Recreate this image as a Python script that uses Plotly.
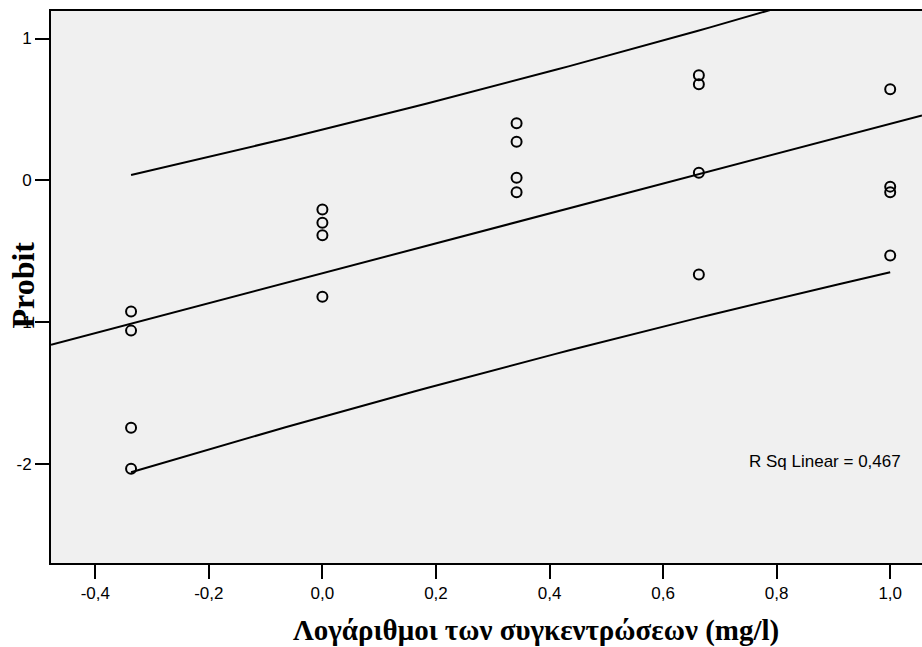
import numpy as np
import plotly.graph_objects as go

# Log10 concentration groups (mg/l) and observed probit values, four replicates each
LOG_CONC = [-0.337, -0.337, -0.337, -0.337,
            0.0, 0.0, 0.0, 0.0,
            0.342, 0.342, 0.342, 0.342,
            0.663, 0.663, 0.663, 0.663,
            1.0, 1.0, 1.0, 1.0]
PROBIT = [-0.924, -1.059, -1.743, -2.032,
          -0.205, -0.299, -0.386, -0.821,
          0.402, 0.273, 0.019, -0.083,
          0.741, 0.678, 0.054, -0.663,
          0.642, -0.044, -0.083, -0.529]

X_TICKS = [-0.4, -0.2, 0.0, 0.2, 0.4, 0.6, 0.8, 1.0]
X_TICK_LABELS = ["-0,4", "-0,2", "0,0", "0,2", "0,4", "0,6", "0,8", "1,0"]
Y_TICKS = [1, 0, -1, -2]
Y_TICK_LABELS = ["1", "0", "-1", "-2"]

X_RANGE = [-0.478, 1.056]
Y_RANGE = [-2.697, 1.194]

R_SQ_LABEL = "R Sq Linear = 0,467"
X_TITLE = "Λογάριθμοι των συγκεντρώσεων (mg/l)"
Y_TITLE = "Probit"

# Two-sided 90% Student t quantile for n - 2 = 18 degrees of freedom
T_CRIT = 1.734

x = np.array(LOG_CONC)
y = np.array(PROBIT)
n = len(x)
slope, intercept = np.polyfit(x, y, 1)
resid = y - (intercept + slope * x)
s = np.sqrt(np.sum(resid ** 2) / (n - 2))
sxx = np.sum((x - x.mean()) ** 2)

# Fitted line across the full axis
fit_x = np.array(X_RANGE)
fit_y = intercept + slope * fit_x

# Individual prediction interval over the observed concentration span
band_x = np.linspace(x.min(), x.max(), 60)
half = T_CRIT * s * np.sqrt(1 + 1 / n + (band_x - x.mean()) ** 2 / sxx)
band_mid = intercept + slope * band_x

W, H = 922, 647
L, R, T, B = 51, 0, 11, 84
PW, PH = W - L - R, H - T - B


def px_to_paper(px, py):
    return (px - L) / PW, (H - B - py) / PH


line_style = dict(color="black", width=2)

fig = go.Figure()
fig.add_trace(go.Scatter(x=fit_x, y=fit_y, mode="lines", line=line_style,
                         hoverinfo="skip"))
fig.add_trace(go.Scatter(x=band_x, y=band_mid + half, mode="lines",
                         line=line_style, hoverinfo="skip"))
fig.add_trace(go.Scatter(x=band_x, y=band_mid - half, mode="lines",
                         line=line_style, hoverinfo="skip"))
fig.add_trace(go.Scatter(
    x=x, y=y, mode="markers",
    marker=dict(symbol="circle-open", size=10, color="black",
                line=dict(color="black", width=2)),
    cliponaxis=False,
))

tick_font = dict(family="Liberation Sans, Arial, sans-serif", size=17, color="black")
title_font = dict(family="Liberation Serif, Times New Roman, serif", color="black")

ax_x, ay_x = px_to_paper(536, 630)
ax_y, ay_y = px_to_paper(22.5, 285)
ax_r, ay_r = px_to_paper(825, 461)

fig.update_layout(
    width=W, height=H,
    margin=dict(l=L, r=R, t=T, b=B, pad=0),
    paper_bgcolor="white",
    plot_bgcolor="#F0F0F0",
    showlegend=False,
    xaxis=dict(
        range=X_RANGE, tickvals=X_TICKS, ticktext=X_TICK_LABELS,
        showgrid=False, zeroline=False,
        showline=True, linecolor="black", linewidth=2, mirror=True,
        ticks="outside", ticklen=14, tickwidth=2, tickcolor="black",
        tickfont=tick_font,
    ),
    yaxis=dict(
        range=Y_RANGE, tickvals=Y_TICKS, ticktext=Y_TICK_LABELS,
        showgrid=False, zeroline=False,
        showline=True, linecolor="black", linewidth=2,
        ticks="outside", ticklen=14, tickwidth=2, tickcolor="black",
        tickfont=tick_font,
    ),
    annotations=[
        dict(text="<b>" + X_TITLE + "</b>", xref="paper", yref="paper",
             x=ax_x, y=ay_x, xanchor="center", yanchor="middle",
             showarrow=False, borderpad=0, font=dict(size=29, **title_font)),
        dict(text="<b>" + Y_TITLE + "</b>", xref="paper", yref="paper",
             x=ax_y, y=ay_y, xanchor="center", yanchor="middle",
             textangle=-90, showarrow=False, borderpad=0,
             font=dict(size=32, **title_font)),
        dict(text=R_SQ_LABEL, xref="paper", yref="paper", x=ax_r, y=ay_r,
             xanchor="center", yanchor="middle", showarrow=False,
             font=tick_font),
    ],
)

fig.write_html("out.html")
